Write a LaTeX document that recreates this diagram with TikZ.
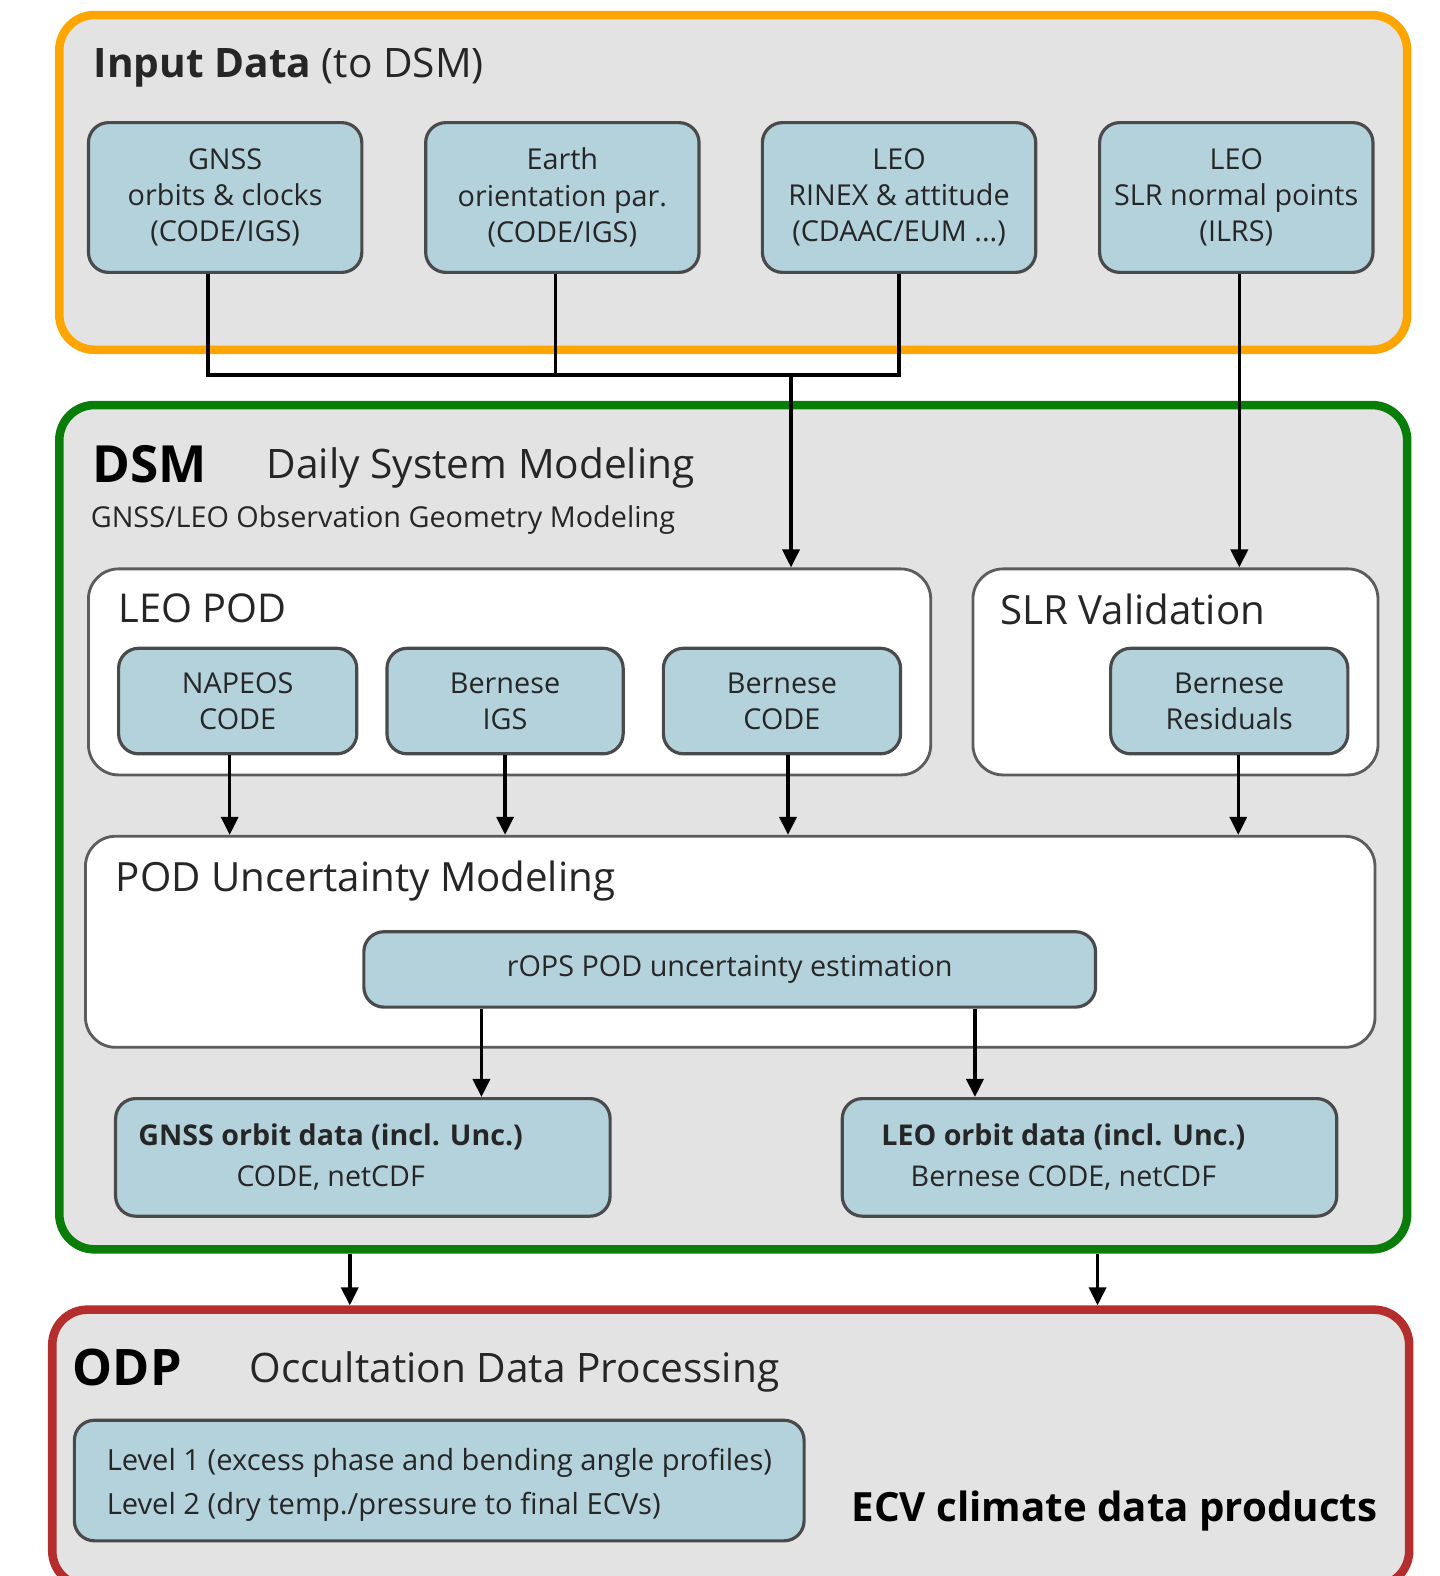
\documentclass[tikz,border=0pt]{standalone}
\usepackage{fontspec}
\setmainfont{Open Sans}
\usetikzlibrary{arrows.meta}
\usetikzlibrary{positioning}

\definecolor{boxblue}{HTML}{B4D2DB}
\definecolor{panelgray}{HTML}{E3E3E3}
\definecolor{frameorange}{HTML}{FFA500}
\definecolor{framegreen}{HTML}{087D08}
\definecolor{framered}{HTML}{B52E2E}
\definecolor{edgegray}{HTML}{4A4A4A}
\definecolor{txt}{HTML}{262626}

\tikzset{
  px/.style 2 args={minimum width=#1*0.02cm, minimum height=#2*0.02cm, inner sep=0pt},
  frame/.style={draw, line width=0.17cm, fill=panelgray, rounded corners=0.7cm},
  panel/.style={draw=edgegray!90, line width=1.6pt, fill=white, rounded corners=0.6cm},
  blok/.style={draw=edgegray, line width=1.8pt, fill=boxblue, rounded corners=0.4cm,
    align=center, text=txt, font=\fontsize{16.3}{20.5}\selectfont},
  title/.style={anchor=base west, text=txt, inner sep=0pt},
  wire/.style={line width=2pt},
  arr/.style={line width=2pt, -{Triangle[length=0.36cm,width=0.34cm]}},
}

\begin{document}
\begin{tikzpicture}[x=0.02cm, y=-0.02cm]
  \useasboundingbox (0,0) rectangle (1432,1568);
  \clip (0,0) rectangle (1432,1568);

  % Input Data
  \node[frame, draw=frameorange, px={1341}{333}] (input) at (729.5,181.5) {};
  \node[title, font=\fontsize{23}{27}\selectfont] (inputtitle) at (93,77) {\textbf{Input Data} (to DSM)};
  \node[blok, px={272}{149}] (gnss)  at (224,196.5)   {GNSS\\orbits \& clocks\\(CODE/IGS)};
  \node[blok, px={272}{149}] (earth) at (559.5,196.5) {Earth\\orientation par.\\(CODE/IGS)};
  \node[blok, px={272}{149}] (rinex) at (894.5,196.5) {LEO\\RINEX \& attitude\\(CDAAC/EUM ...)};
  \node[blok, px={272}{149}] (slrin) at (1230,196.5)  {LEO\\SLR normal points\\(ILRS)};

  % DSM
  \node[frame, draw=framegreen, px={1341}{840}] (dsm) at (729.5,823) {};
  \node[title, font=\fontsize{29}{33}\selectfont\bfseries, text=black] (dsmtitle) at (92,480) {DSM};
  \node[title, font=\fontsize{23}{27}\selectfont] (dsmname) at (265,476) {Daily System Modeling};
  \node[title, font=\fontsize{16.3}{20}\selectfont] (dsmsub) at (90,525) {GNSS/LEO Observation Geometry Modeling};

  \node[panel, px={838}{205}] (leopod) at (507,668.5) {};
  \node[title, font=\fontsize{22.5}{27}\selectfont] (leopodtitle) at (118,619) {LEO POD};
  \node[blok, px={237}{105}] (napeos) at (236.5,697.5) {NAPEOS\\CODE};
  \node[blok, px={235}{105}] (bigs)   at (502.5,697.5) {Bernese\\IGS};
  \node[blok, px={236}{105}] (bcode)  at (778,697.5)   {Bernese\\CODE};

  \node[panel, px={403}{205}] (slrval) at (1169.5,668.5) {};
  \node[title, font=\fontsize{22.8}{27}\selectfont] (slrvaltitle) at (995,621) {SLR Validation};
  \node[blok, px={236}{105}] (resid) at (1223,697.5) {Bernese\\Residuals};

  \node[panel, px={1283}{210}] (pod) at (726.5,937) {};
  \node[title, font=\fontsize{22.8}{27}\selectfont] (podtitle) at (115,887) {POD Uncertainty Modeling};
  \node[blok, px={728}{75}] (rops) at (726,964.5) {rOPS POD uncertainty estimation};

  \node[blok, px={492}{117}] (gnssorb) at (361,1151.5) {};
  \node[align=center, text=txt, font=\fontsize{16.2}{23}\selectfont] (gnssorbtxt)
    at (329,1151) {\textbf{GNSS orbit data (incl. Unc.)}\\CODE, netCDF};
  \node[blok, px={492}{117}] (leoorb) at (1084,1151.5) {};
  \node[align=center, text=txt, font=\fontsize{16.2}{23}\selectfont] (leoorbtxt)
    at (1058,1151) {\textbf{LEO orbit data (incl. Unc.)}\\Bernese CODE, netCDF};

  % ODP
  \node[frame, draw=framered, px={1350}{275}] (odp) at (727,1440.5) {};
  \node[title, font=\fontsize{28.5}{33}\selectfont\bfseries, text=black] (odptitle) at (72,1378) {ODP};
  \node[title, font=\fontsize{23}{27}\selectfont] (odpname) at (248,1375) {Occultation Data Processing};
  \node[blok, px={726}{120}] (levels) at (437,1473) {};
  \node[align=left, text=txt, font=\fontsize{16.5}{25}\selectfont, anchor=west] (levelstxt)
    at (100,1477) {Level 1 (excess phase and bending angle profiles)\\Level 2 (dry temp./pressure to final ECVs)};
  \node[title, font=\fontsize{22.8}{27}\selectfont\bfseries, text=black] (ecv) at (847,1514) {ECV climate data products};

  % connectors
  \coordinate (join) at (787,373);
  \coordinate (gnssout) at ([xshift=-0.34cm]gnss.south);
  \coordinate (earthout) at ([xshift=-0.14cm]earth.south);
  \coordinate (slrout) at ([xshift=0.06cm]slrin.south);
  \coordinate (napeosout) at ([xshift=-0.16cm]napeos.south);
  \coordinate (bcodeout) at ([xshift=0.12cm]bcode.south);
  \coordinate (residout) at ([xshift=0.18cm]resid.south);
  \coordinate (gnsstap) at (479,1020);
  \coordinate (leotap) at (970,1020);
  \coordinate (odpl) at (348,1270);
  \coordinate (odpr) at (1092,1270);

  \draw[wire] (gnssout) |- (rinex.south |- join) -- (rinex.south);
  \draw[wire] (earthout) -- (earthout |- join);
  \draw[arr] (join) -- (join |- leopod.north);
  \draw[arr] (slrout) -- (slrout |- slrval.north);

  \draw[arr] (napeosout) -- (napeosout |- pod.north);
  \draw[arr] (bigs.south) -- (bigs.south |- pod.north);
  \draw[arr] (bcodeout) -- (bcodeout |- pod.north);
  \draw[arr] (residout) -- (residout |- pod.north);

  \draw[arr] (rops.south -| gnsstap) -- (gnssorb.north -| gnsstap);
  \draw[arr] (rops.south -| leotap) -- (leoorb.north -| leotap);

  \draw[arr] (dsm.south -| odpl) -- (odp.north -| odpl);
  \draw[arr] (dsm.south -| odpr) -- (odp.north -| odpr);
\end{tikzpicture}
\end{document}
